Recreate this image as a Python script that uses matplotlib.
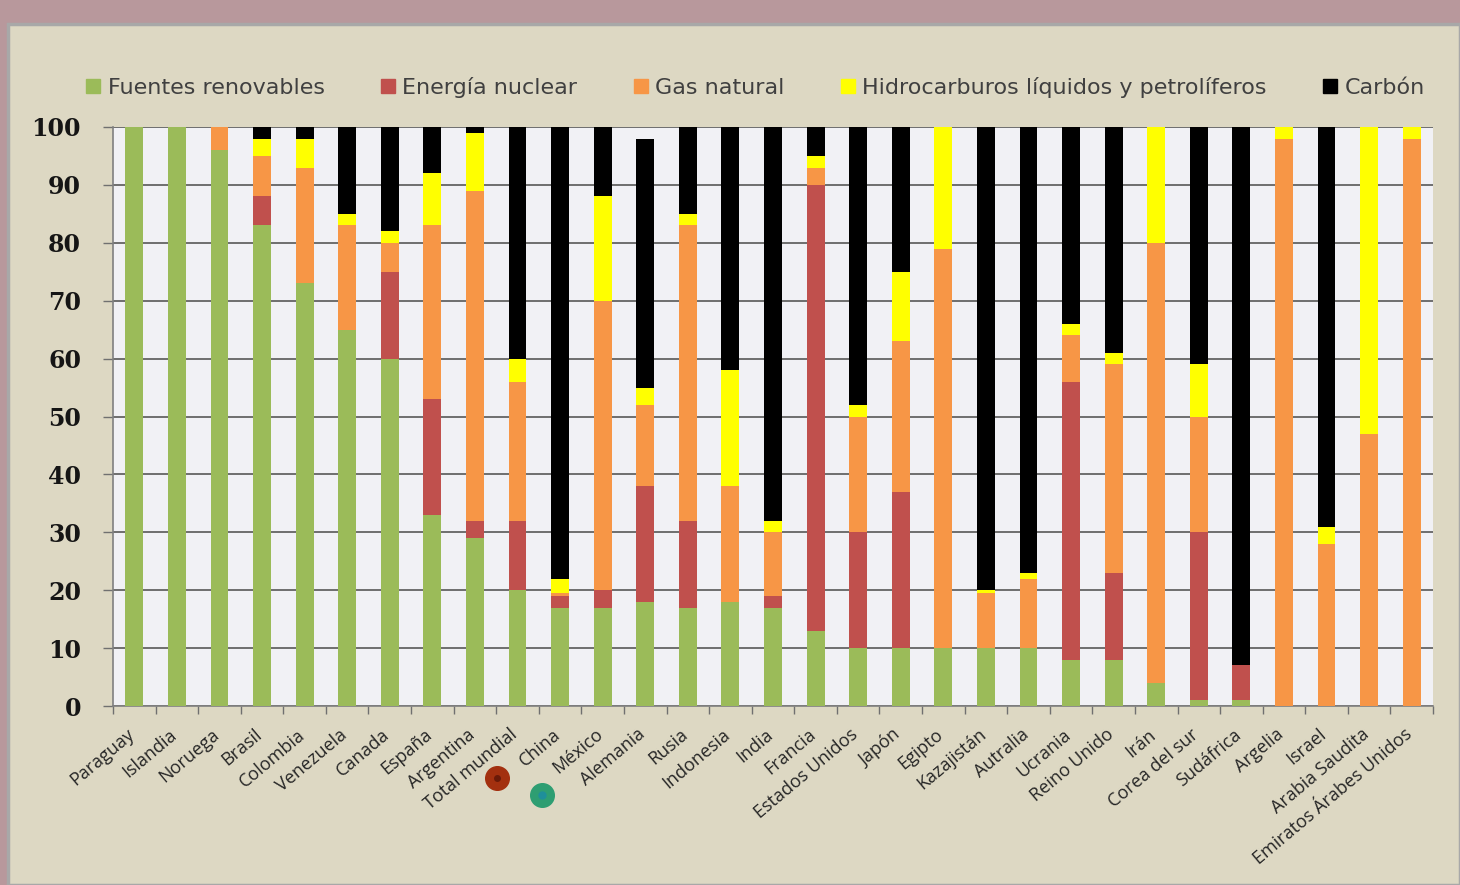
import numpy as np
import matplotlib
matplotlib.use("Agg")
import matplotlib.pyplot as plt
from matplotlib.patches import Rectangle
from matplotlib.lines import Line2D
from matplotlib.transforms import ScaledTranslation

paises = ["Paraguay", "Islandia", "Noruega", "Brasil", "Colombia", "Venezuela",
          "Canada", "España", "Argentina", "Total mundial", "China", "México",
          "Alemania", "Rusia", "Indonesia", "India", "Francia", "Estados Unidos",
          "Japón", "Egipto", "Kazajistán", "Autralia", "Ucrania", "Reino Unido",
          "Irán", "Corea del sur", "Sudáfrica", "Argelia", "Israel",
          "Arabia Saudita", "Emiratos Árabes Unidos"]

renovables = [100, 100, 96, 83, 73, 65, 60, 33, 29, 20, 17, 17, 18, 17, 18, 17,
              13, 10, 10, 10, 10, 10, 8, 8, 4, 1, 1, 0, 0, 0, 0]
nuclear = [0, 0, 0, 5, 0, 0, 15, 20, 3, 12, 2, 3, 20, 15, 0, 2,
           77, 20, 27, 0, 0, 0, 48, 15, 0, 29, 6, 0, 0, 0, 0]
gas = [0, 0, 4, 7, 20, 18, 5, 30, 57, 24, 0.5, 50, 14, 51, 20, 11,
       3, 20, 26, 69, 9.5, 12, 8, 36, 76, 20, 0, 98, 28, 47, 98]
petroleo = [0, 0, 0, 3, 5, 2, 2, 9, 10, 4, 2.5, 18, 3, 2, 20, 2,
            2, 2, 12, 21, 0.5, 1, 2, 2, 20, 9, 0, 2, 3, 53, 2]
carbon = [0, 0, 0, 2, 2, 15, 18, 8, 1, 40, 78, 12, 43, 15, 42, 68,
          5, 48, 25, 0, 80, 77, 34, 39, 0, 41, 93, 0, 69, 0, 0]

series = [("Fuentes renovables", renovables, "#9bbb59"),
          ("Energía nuclear", nuclear, "#c0504d"),
          ("Gas natural", gas, "#f79646"),
          ("Hidrocarburos líquidos y petrolíferos", petroleo, "#ffff00"),
          ("Carbón", carbon, "#000000")]

W, H = 1460, 885
fig = plt.figure(figsize=(W / 100, H / 100), dpi=100)
fig.patch.set_facecolor("#b8989c")

# panel beige con borde gris
fig.add_artist(Rectangle((8 / W, 0), 1 - 8 / W, 1 - 24 / H, transform=fig.transFigure,
                         facecolor="#ddd8c3", edgecolor="#a8a8a8", linewidth=2.5, zorder=0))

ax = fig.add_axes([113 / W, (H - 706) / H, 1320 / W, 579 / H])
ax.set_facecolor("#f1f1f5")

x = np.arange(len(paises))
base = np.zeros(len(paises))
for nombre, vals, color in series:
    vals = np.array(vals, dtype=float)
    ax.bar(x, vals, width=0.42, bottom=base, color=color, label=nombre, zorder=3)
    base += vals

ax.set_xlim(-0.5, len(paises) - 0.5)
ax.set_ylim(0, 100)
ax.set_yticks(range(0, 101, 10))
ax.grid(axis="y", color="#4a4a4a", linewidth=1.1, zorder=1)
ax.tick_params(axis="y", length=7, width=1, color="#707070", direction="out", pad=16)
for lab in ax.get_yticklabels():
    lab.set_fontfamily("DejaVu Serif")
    lab.set_fontweight("bold")
    lab.set_fontsize(17)
    lab.set_color("#151515")

ax.set_xticks(x)
ax.set_xticklabels(paises, rotation=40, ha="right", va="top", rotation_mode="anchor",
                   fontsize=13, color="#262626", family="Open Sans")
ax.set_xticks(np.arange(-0.5, len(paises), 1), minor=True)
ax.tick_params(axis="x", which="major", length=0, pad=14)
ax.tick_params(axis="x", which="minor", length=6, width=1, color="#707070")
desplaza = ScaledTranslation(-8 / 100, 0, fig.dpi_scale_trans)
for lab in ax.get_xticklabels():
    lab.set_transform(lab.get_transform() + desplaza)

for lado in ["top", "right"]:
    ax.spines[lado].set_visible(False)
ax.spines["left"].set_color("#808080")
ax.spines["bottom"].set_color("#808080")
ax.spines["left"].set_linewidth(1.2)
ax.spines["bottom"].set_linewidth(1.2)

handles = [Line2D([0], [0], marker="s", linestyle="none", markersize=10,
                  markerfacecolor=c, markeredgecolor=c) for _, _, c in series]
fig.legend(handles, [s[0] for s in series], loc="center", ncol=5,
           bbox_to_anchor=(754 / W, 1 - 87 / H), frameon=False,
           prop={"family": "DejaVu Sans", "size": 16}, labelcolor="#404040",
           handletextpad=0.2, columnspacing=2.4, handlelength=0.9)

# marcas circulares bajo el eje
fig.add_artist(Line2D([497 / W], [1 - 778 / H], marker="o", markersize=17,
                      markerfacecolor="#a3300f", markeredgecolor="#a3300f",
                      transform=fig.transFigure))
fig.add_artist(Line2D([497 / W], [1 - 778 / H], marker="o", markersize=4,
                      markerfacecolor="#6a1a08", markeredgecolor="#6a1a08",
                      transform=fig.transFigure))
fig.add_artist(Line2D([542 / W], [1 - 795 / H], marker="o", markersize=17,
                      markerfacecolor="#2e9e72", markeredgecolor="#2e9e72",
                      transform=fig.transFigure))
fig.add_artist(Line2D([542 / W], [1 - 795 / H], marker="o", markersize=5,
                      markerfacecolor="#1f8f9a", markeredgecolor="#1f8f9a",
                      transform=fig.transFigure))

fig.savefig("out.png", dpi=100, facecolor=fig.get_facecolor())
